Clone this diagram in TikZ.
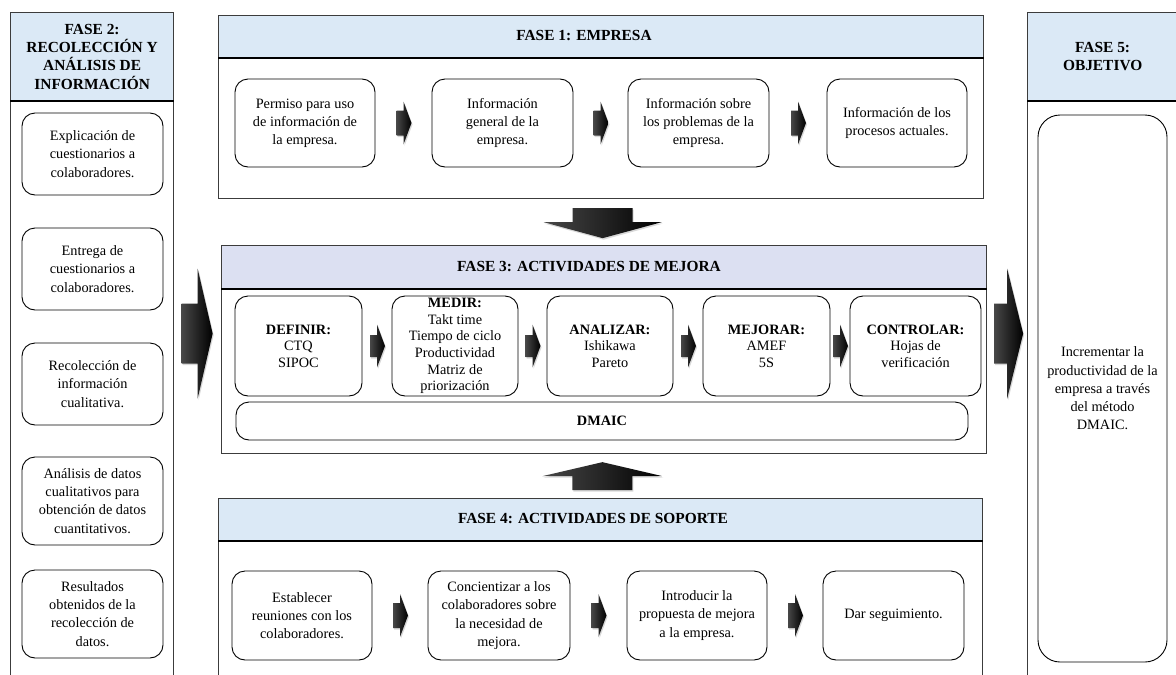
\documentclass[tikz,border=0pt]{standalone}
\usepackage{fontspec}
\setmainfont{Liberation Serif}
\usetikzlibrary{calc,shadows}

\definecolor{fasebg}{HTML}{DBE9F6}
\definecolor{mejorabg}{HTML}{DCE0F2}
\definecolor{bordergray}{HTML}{3C3C3C}

\tikzset{
  faseframe/.style={draw=bordergray, line width=1.3pt, inner sep=0pt, anchor=north west},
  fasehead/.style={faseframe, fill=fasebg, align=center,
    font=\fontsize{15.4}{18.3}\selectfont\bfseries},
  fasetitle/.style={font=\fontsize{15.4}{18.3}\selectfont\bfseries},
  headline/.style={line width=2pt, black},
  actbox/.style={draw, line width=0.9pt, rounded corners=13pt, fill=white,
    align=center, inner sep=2pt, font=\fontsize{14.3}{18.2}\selectfont},
  metbox/.style={actbox, font=\fontsize{14.3}{16.6}\selectfont},
  arrowfill/.style={left color=black!72, right color=black,
    drop shadow={opacity=0.3, shadow xshift=1pt, shadow yshift=-1.5pt}},
  pics/blockarrow/.style n args={4}{code={
    \path[arrowfill] (-#1,-#3) -- (0,-#3) -- (0,-#4) -- (#2,0) -- (0,#4)
      -- (0,#3) -- (-#1,#3) -- cycle;
  }},
}

\begin{document}
\begin{tikzpicture}[x=1pt, y=-1pt]
    \clip (0,0) rectangle (1176,675);
    \fill[white] (0,0) rectangle (1176,675);

    % Fase 2: left column
    \node[faseframe, minimum width=163pt, minimum height=700pt] (f2) at (10,12) {};
    \node[fasehead, minimum width=163pt, minimum height=88pt] (h2) at (10,12)
        {FASE 2:\\RECOLECCIÓN Y\\ANÁLISIS DE\\INFORMACIÓN};
    \draw[headline] (h2.south west) -- (h2.south east);

    \node[actbox, minimum width=141pt, minimum height=82pt] (r1) at (92.5,154)
        {Explicación de\\cuestionarios a\\colaboradores.};
    \node[actbox, minimum width=141pt, minimum height=82pt] (r2) at (92.5,269)
        {Entrega de\\cuestionarios a\\colaboradores.};
    \node[actbox, minimum width=141pt, minimum height=82pt] (r3) at (92.5,384)
        {Recolección de\\información\\cualitativa.};
    \node[actbox, minimum width=141pt, minimum height=88pt] (r4) at (92.5,501)
        {Análisis de datos\\cualitativos para\\obtención de datos\\cuantitativos.};
    \node[actbox, minimum width=141pt, minimum height=88pt] (r5) at (92.5,614)
        {Resultados\\obtenidos de la\\recolección de\\datos.};

    % Fase 1: empresa
    \node[faseframe, minimum width=765pt, minimum height=183pt] (f1) at (218,15) {};
    \node[fasehead, minimum width=765pt, minimum height=42pt] (h1) at (218,15) {};
    \draw[headline] (h1.south west) -- (h1.south east);
    \node[fasetitle] (t1) at (584,36) {FASE 1: EMPRESA};

    \node[actbox, minimum width=140pt, minimum height=88pt] (e1) at (305,123)
        {Permiso para uso\\de información de\\la empresa.};
    \node[actbox, minimum width=141pt, minimum height=88pt] (e2) at (502.5,123)
        {Información\\general de la\\empresa.};
    \node[actbox, minimum width=141pt, minimum height=88pt] (e3) at (698.5,123)
        {Información sobre\\los problemas de la\\empresa.};
    \node[actbox, minimum width=140pt, minimum height=88pt] (e4) at (897,123)
        {Información de los\\procesos actuales.};

    \pic at ($(e1.east)!0.5!(e2.west)$) {blockarrow={7}{8}{12.5}{21.5}};
    \pic at ($(e2.east)!0.5!(e3.west)$) {blockarrow={7}{8}{12.5}{21.5}};
    \pic at ($(e3.east)!0.5!(e4.west)$) {blockarrow={7}{8}{12.5}{21.5}};

    % Fase 3: actividades de mejora
    \node[faseframe, minimum width=765pt, minimum height=208pt] (f3) at (221,245) {};
    \node[fasehead, fill=mejorabg, minimum width=765pt, minimum height=43pt] (h3) at (221,245) {};
    \draw[headline] (h3.south west) -- (h3.south east);
    \node[fasetitle] (t3) at (589,267) {FASE 3: ACTIVIDADES DE MEJORA};

    \node[metbox, minimum width=127pt, minimum height=100pt] (d1) at (298.5,346)
        {\textbf{DEFINIR:}\\CTQ\\SIPOC};
    \node[metbox, minimum width=126pt, minimum height=100pt] (d2) at (455,346)
        {\textbf{MEDIR:}\\Takt time\\Tiempo de ciclo\\Productividad\\Matriz de\\priorización};
    \node[metbox, minimum width=126pt, minimum height=100pt] (d3) at (610,346)
        {\textbf{ANALIZAR:}\\Ishikawa\\Pareto};
    \node[metbox, minimum width=127pt, minimum height=100pt] (d4) at (766.5,346)
        {\textbf{MEJORAR:}\\AMEF\\5S};
    \node[metbox, minimum width=131pt, minimum height=100pt] (d5) at (915.5,346)
        {\textbf{CONTROLAR:}\\Hojas de\\verificación};
    \node[metbox, minimum width=732pt, minimum height=38pt] (dm) at (602,421)
        {\textbf{DMAIC}};

    \pic at ($(d1.east)!0.5!(d2.west)$) {blockarrow={7}{8}{11}{21.5}};
    \pic at ($(d2.east)!0.5!(d3.west)$) {blockarrow={7}{8}{11}{21.5}};
    \pic at ($(d3.east)!0.5!(d4.west)$) {blockarrow={7}{8}{11}{21.5}};
    \pic at ($(d4.east)!0.5!(d5.west)$) {blockarrow={7}{8}{11}{21.5}};

    % Fase 4: actividades de soporte
    \node[faseframe, minimum width=764pt, minimum height=200pt] (f4) at (218,498) {};
    \node[fasehead, minimum width=764pt, minimum height=42pt] (h4) at (218,498) {};
    \draw[headline] (h4.south west) -- (h4.south east);
    \node[fasetitle] (t4) at (593,519) {FASE 4: ACTIVIDADES DE SOPORTE};

    \node[actbox, minimum width=140pt, minimum height=89pt] (s1) at (302,615.5)
        {Establecer\\reuniones con los\\colaboradores.};
    \node[actbox, minimum width=142pt, minimum height=89pt] (s2) at (499,615.5)
        {Concientizar a los\\colaboradores sobre\\la necesidad de\\mejora.};
    \node[actbox, minimum width=140pt, minimum height=89pt] (s3) at (697,615.5)
        {Introducir la\\propuesta de mejora\\a la empresa.};
    \node[actbox, minimum width=141pt, minimum height=89pt] (s4) at (893.5,615.5)
        {Dar seguimiento.};

    \pic at ($(s1.east)!0.5!(s2.west)$) {blockarrow={7}{8}{12.5}{21.5}};
    \pic at ($(s2.east)!0.5!(s3.west)$) {blockarrow={7}{8}{12.5}{21.5}};
    \pic at ($(s3.east)!0.5!(s4.west)$) {blockarrow={7}{8}{12.5}{21.5}};

    % Fase 5: objetivo
    \node[faseframe, minimum width=150pt, minimum height=700pt] (f5) at (1027,12) {};
    \node[fasehead, minimum width=150pt, minimum height=88pt] (h5) at (1027,12)
        {FASE 5:\\OBJETIVO};
    \draw[headline] (h5.south west) -- (h5.south east);
    \node[actbox, rounded corners=22pt, minimum width=129pt, minimum height=547pt] (obj)
        at (1102.5,388.5)
        {Incrementar la\\productividad de la\\empresa a través\\del método\\DMAIC.};

    % big arrows between phases
    \coordinate (f2r) at (f2.east |- f3.west);
    \coordinate (f5l) at (f5.west |- f3.east);
    \pic at ($(f2r)!0.5!(f3.west) + (0,-16)$) {blockarrow={16}{15}{30}{65}};
    \pic at ($(f3.east)!0.5!(f5l) + (0,-16)$) {blockarrow={13}{16}{30}{65}};
    \pic[rotate=-90] at ($(f1.south)!0.5!(f3.north)$) {blockarrow={14}{16}{30}{59}};
    \pic[rotate=90] at ($(f3.south)!0.5!(f4.north)$) {blockarrow={14}{14}{30}{60}};
\end{tikzpicture}
\end{document}
